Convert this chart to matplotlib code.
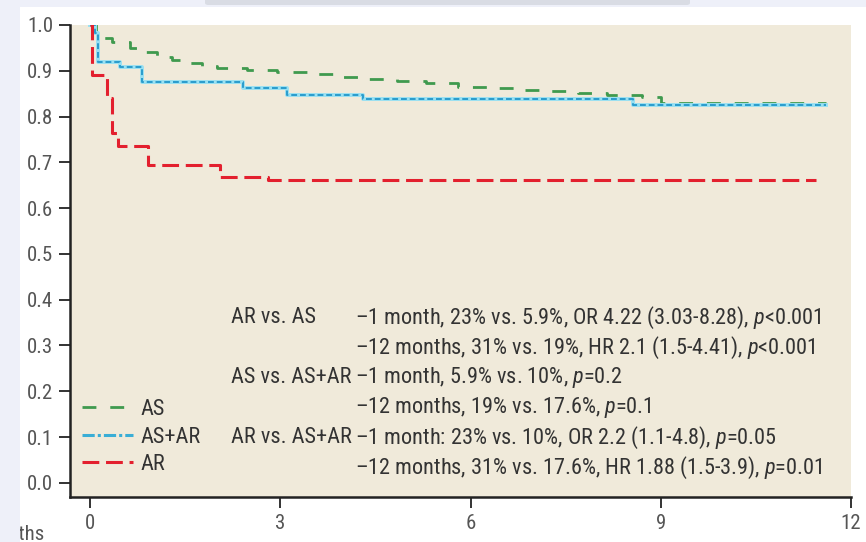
import matplotlib
matplotlib.use("Agg")
import matplotlib.pyplot as plt
from matplotlib.patches import Rectangle, FancyBboxPatch

# ---- survival curves (months, freedom from event) ----
months_as = [0, 0.10, 0.35, 0.63, 0.85, 1.06, 1.30, 1.53, 1.77, 2.00, 2.48, 2.95,
             3.42, 3.90, 4.37, 4.84, 5.30, 5.80, 6.26, 6.70, 7.20, 7.70, 8.15,
             8.70, 9.00, 11.60]
surv_as = [1.0, 0.972, 0.962, 0.950, 0.940, 0.930, 0.924, 0.917, 0.911, 0.906,
           0.902, 0.897, 0.893, 0.886, 0.881, 0.878, 0.873, 0.865, 0.862, 0.858,
           0.856, 0.852, 0.847, 0.843, 0.830, 0.830]

months_asar = [0, 0.08, 0.12, 0.47, 0.82, 2.41, 3.10, 4.30, 8.56, 11.60]
surv_asar = [1.0, 0.983, 0.919, 0.908, 0.876, 0.862, 0.847, 0.838, 0.825, 0.825]

months_ar = [0, 0.03, 0.27, 0.35, 0.44, 0.91, 2.05, 2.80, 11.45]
surv_ar = [1.0, 0.891, 0.841, 0.764, 0.736, 0.694, 0.668, 0.662, 0.662]

x_ticks = [0, 3, 6, 9, 12]
y_ticks = [0.0, 0.1, 0.2, 0.3, 0.4, 0.5, 0.6, 0.7, 0.8, 0.9, 1.0]

compare_labels = ["AR vs. AS", "", "AS vs. AS+AR", "", "AR vs. AS+AR", ""]
compare_details = [
    "\u20131 month, 23% vs. 5.9%, OR 4.22 (3.03-8.28), $p$<0.001",
    "\u201312 months, 31% vs. 19%, HR 2.1 (1.5-4.41), $p$<0.001",
    "\u20131 month, 5.9% vs. 10%, $p$=0.2",
    "\u201312 months, 19% vs. 17.6%, $p$=0.1",
    "\u20131 month: 23% vs. 10%, OR 2.2 (1.1-4.8), $p$=0.05",
    "\u201312 months, 31% vs. 17.6%, HR 1.88 (1.5-3.9), $p$=0.01",
]
text_rows = [0.360, 0.295, 0.229, 0.164, 0.098, 0.033]

FONT = ["Roboto Condensed", "DejaVu Sans"]
plt.rcParams["font.family"] = FONT
plt.rcParams["mathtext.fontset"] = "custom"
plt.rcParams["mathtext.rm"] = "Roboto Condensed"
plt.rcParams["mathtext.it"] = "Roboto Condensed:italic"

W, H = 866, 542
fig = plt.figure(figsize=(W / 100, H / 100), dpi=100, facecolor="#eef0f9")

# white page area behind the figure
fig.patches.append(Rectangle((20 / W, 0), 1, 1 - 7 / H, transform=fig.transFigure,
                             facecolor="white", edgecolor="none", zorder=-10))
fig.patches.append(FancyBboxPatch((205 / W, 1 - 5 / H), 485 / W, 8 / H,
                                  boxstyle="round,pad=0,rounding_size=0.004",
                                  transform=fig.transFigure, facecolor="#d9dce4",
                                  edgecolor="none", zorder=-9))

ax = fig.add_axes([70 / W, 45 / H, 781 / W, 472 / H])
ax.set_facecolor("#f0eada")

# AS
ax.step(months_as, surv_as, where="post", color="#3f9a4e", lw=2.0,
        linestyle=(0, (5, 5)), label="AS")
# AS+AR: light cyan band with fine darker dashes
ax.step(months_asar, surv_asar, where="post", color="#98e0f2", lw=2.8)
ax.step(months_asar, surv_asar, where="post", color="#2a9ccc", lw=1.4,
        linestyle=(0, (3, 1.5)))
ax.plot([], [], color="#3aaed6", lw=2.2, linestyle=(0, (4, 1, 1, 1)), label="AS+AR")
# AR
ax.step(months_ar, surv_ar, where="post", color="#e3202e", lw=2.2,
        linestyle=(0, (5.5, 2.2)), label="AR")

ax.set_xlim(-0.316, 12.0)
ax.set_ylim(-0.031, 1.0)
ax.set_xticks(x_ticks)
ax.set_yticks(y_ticks)
ax.set_yticklabels([f"{v:.1f}" for v in y_ticks])

for side in ("top", "right"):
    ax.spines[side].set_visible(False)
for side in ("left", "bottom"):
    ax.spines[side].set_color("#222222")
    ax.spines[side].set_linewidth(1.8)
ax.tick_params(axis="both", direction="out", length=8, width=1.4, color="#333333",
               labelsize=15, labelcolor="#555555", pad=4)

# comparison statistics
for row, lab, det in zip(text_rows, compare_labels, compare_details):
    ax.text(2.22, row, lab, fontsize=16, color="#333333", va="center", ha="left")
    ax.text(4.18, row, det, fontsize=16, color="#333333", va="center", ha="left")

leg = ax.legend(loc="center left", bbox_to_anchor=(0.004, 0.127), frameon=False,
                fontsize=16, handlelength=2.3, handletextpad=0.35,
                labelspacing=0.3, borderaxespad=0)
for t in leg.get_texts():
    t.set_color("#333333")

# x-axis title, cut off at the page edge
lab = fig.text(45 / W, 1 - 535 / H, "Months", fontsize=15, color="#555555",
               ha="right", va="center")
lab.set_clip_path(Rectangle((20 / W, 0), 1, 1, transform=fig.transFigure))

fig.savefig("out.png", dpi=100, facecolor=fig.get_facecolor())
